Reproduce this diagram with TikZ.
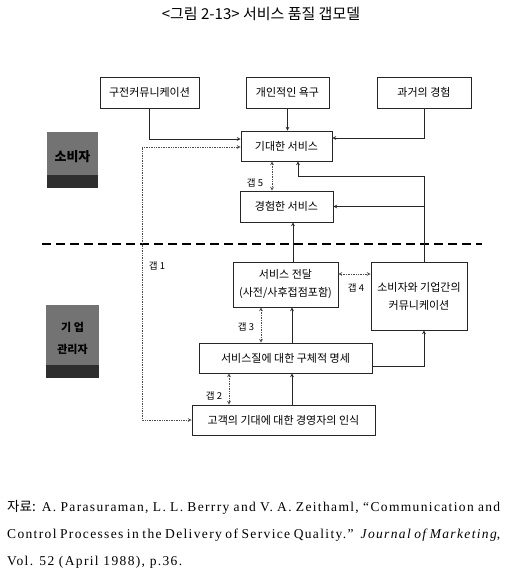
\documentclass[tikz,border=0pt]{standalone}
\usepackage{fontspec}
\setmainfont{Liberation Serif}[LetterSpace=10]
\newfontfamily\krfont{Noto Sans CJK KR}
\begin{document}
\begin{tikzpicture}[
    x=1pt, y=-1pt,
    gapModelBoxStyle/.style={draw=black!85, line width=0.8pt, inner sep=0pt,
        align=center, font=\krfont\fontsize{11}{18}\selectfont},
    gapModelDarkStyle/.style={fill=black!55},
    gapModelDarkBand/.style={fill=black!82},
    gapModelDarkText/.style={inner sep=0pt, align=center, text=black},
    gapModelLinkStyle/.style={->, line width=0.7pt, black!85},
    gapModelGapStyle/.style={<->, densely dotted, line width=0.7pt, black!70},
    gapModelLabelStyle/.style={font=\krfont\fontsize{9.5}{10}\selectfont},
    >=stealth
]
    \useasboundingbox (0,0) rectangle (511,580);

    % 제목
    \node[font=\krfont\fontsize{15}{17}\selectfont] (title) at (261,14) {<그림 2-13> 서비스 품질 갭모델};

    % 소비자 / 기업 구분
    \fill[gapModelDarkStyle] (47,132) rectangle (98,188);
    \fill[gapModelDarkBand] (47,175) rectangle (98,188);
    \fill[gapModelDarkStyle] (46,305) rectangle (99,378);
    \fill[gapModelDarkBand] (46,365) rectangle (99,378);
    \node[gapModelDarkText, font=\krfont\bfseries\fontsize{13}{14}\selectfont] (consumer) at (72.5,157) {소비자};
    \node[gapModelDarkText, font=\krfont\bfseries\fontsize{11}{22}\selectfont] (marketer) at (72.5,338) {기 업\\관리자};
    \draw[line width=1.6pt, dash pattern=on 9pt off 5pt] (42,244) -- (482,244);

    % 상자
    \node[gapModelBoxStyle, minimum width=99pt, minimum height=31pt] (wom) at (149.5,92.5) {구전커뮤니케이션};
    \node[gapModelBoxStyle, minimum width=83pt, minimum height=31pt] (needs) at (287.5,92.5) {개인적인 욕구};
    \node[gapModelBoxStyle, minimum width=94pt, minimum height=31pt] (past) at (424,92.5) {과거의 경험};
    \node[gapModelBoxStyle, minimum width=91pt, minimum height=30pt] (expected) at (286.5,146) {기대한 서비스};
    \node[gapModelBoxStyle, minimum width=93pt, minimum height=31pt] (perceived) at (286.5,206.5) {경험한 서비스};
    \node[gapModelBoxStyle, minimum width=105pt, minimum height=45pt] (delivery) at (285.5,284.5) {서비스 전달\\(사전/사후접점포함)};
    \node[gapModelBoxStyle, minimum width=96pt, minimum height=68pt] (extcomm) at (419,296) {소비자와 기업간의\\커뮤니케이션};
    \node[gapModelBoxStyle, minimum width=173pt, minimum height=30pt] (specs) at (285.5,358) {서비스질에 대한 구체적 명세};
    \node[gapModelBoxStyle, minimum width=183pt, minimum height=30pt] (mgmt) at (283.5,420) {고객의 기대에 대한 경영자의 인식};

    % 연결선
    \draw[gapModelLinkStyle] (wom.south) |- ([yshift=7pt]expected.west);
    \draw[gapModelLinkStyle] (needs.south) -- (needs.south |- expected.north);
    \draw[gapModelLinkStyle] (past.south) |- ([yshift=8pt]expected.east);
    \coordinate (commTurn) at (298,176);
    \draw[gapModelLinkStyle] ([xshift=5pt]extcomm.north) |- (commTurn) -- (commTurn |- expected.south);
    \draw[gapModelLinkStyle] ([xshift=5pt]extcomm.north |- perceived.east) -- (perceived.east);
    \draw[gapModelLinkStyle] ([xshift=7.5pt]delivery.north) -- ([xshift=7.5pt]delivery.north |- perceived.south);
    \draw[gapModelLinkStyle] ([xshift=6.5pt]specs.north) -- ([xshift=6.5pt]specs.north |- delivery.south);
    \draw[gapModelLinkStyle] ([yshift=-8pt]specs.east) -| ([xshift=5pt]extcomm.south);
    \draw[gapModelLinkStyle] ([xshift=8.5pt]mgmt.north) -- ([xshift=8.5pt]mgmt.north |- specs.south);

    % 갭
    \coordinate (gapOneCorner) at (142,420);
    \draw[gapModelGapStyle] ([yshift=-1pt]expected.west) -| (gapOneCorner) -- (mgmt.west);
    \draw[gapModelGapStyle] ([xshift=-56.5pt]specs.south) -- ([xshift=-56.5pt]specs.south |- mgmt.north);
    \draw[gapModelGapStyle] ([xshift=-24.5pt]delivery.south) -- ([xshift=-24.5pt]delivery.south |- specs.north);
    \draw[gapModelGapStyle] ([yshift=10.5pt]delivery.east) -- ([yshift=10.5pt]delivery.east -| extcomm.west);
    \draw[gapModelGapStyle] ([xshift=-14.5pt]expected.south) -- ([xshift=-14.5pt]expected.south |- perceived.north);
    \node[gapModelLabelStyle] (gapOne) at (157,266) {갭 1};
    \node[gapModelLabelStyle] (gapTwo) at (214,396) {갭 2};
    \node[gapModelLabelStyle] (gapThree) at (246,327) {갭 3};
    \node[gapModelLabelStyle] (gapFour) at (356,288) {갭 4};
    \node[gapModelLabelStyle] (gapFive) at (255,183) {갭 5};

    % 자료
    \node[anchor=north west, inner sep=0pt, text width=493pt, align=justify,
        font=\fontsize{13.5}{27}\selectfont] (source) at (7,500)
        {\hangindent=29pt\hangafter=1 {\krfont 자료:} A. Parasuraman, L. L. Berrry and V. A. Zeithaml, ``Communication and\linebreak
        Control Processes in the Delivery of Service Quality.''\ \ \textit{Journal of Marketing},\linebreak
        Vol. 52 (April 1988), p.36.};
\end{tikzpicture}
\end{document}
